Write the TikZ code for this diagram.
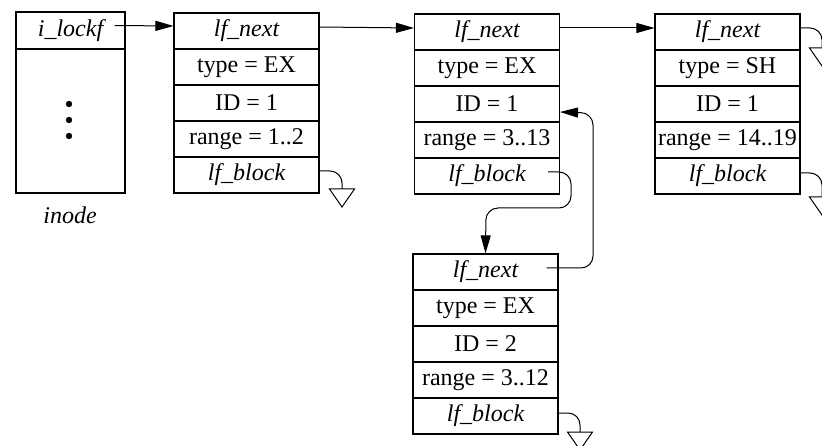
\documentclass[tikz,border=0pt]{standalone}
\usepackage{fontspec}
\setmainfont{Liberation Serif}
\usetikzlibrary{arrows.meta,calc}
\begin{document}
\begin{tikzpicture}[x=1pt,y=-1pt,
  cell/.style={draw,line width=1.1pt,minimum width=145pt,minimum height=36pt,inner sep=0pt,font=\fontsize{24}{28}\selectfont},
  link/.style={line width=1pt,rounded corners=12pt},
  tip/.style={-{Triangle[length=18pt,width=10pt]}},
  ground/.style={line width=1pt,line join=miter}]
\useasboundingbox (0,0) rectangle (822,446);
\clip (0,0) rectangle (822,446);
% inode
\node[cell,minimum width=109pt,minimum height=37pt] (ilockf) at (70.5,30.5) {\itshape i\_lockf};
\node[draw,line width=1.1pt,minimum width=109pt,minimum height=144pt,inner sep=0pt] (ibody) at (70.5,121) {};
\fill (69,104) circle (3.2pt) (69,120) circle (3.2pt) (69,136) circle (3.2pt);
\node[font=\fontsize{24}{28}\selectfont\itshape] (inodelabel) at (70,215) {inode};
% record 1
\node[cell] (a1) at (246.5,31) {\itshape lf\_next};
\node[cell] (a2) at (246.5,67) {type = EX};
\node[cell] (a3) at (246.5,103) {ID = 1};
\node[cell] (a4) at (246.5,139) {range = 1..2};
\node[cell] (a5) at (246.5,175) {\itshape lf\_block};
% record 2
\node[cell] (b1) at (487,32) {\itshape lf\_next};
\node[cell] (b2) at (487,68) {type = EX};
\node[cell] (b3) at (487,104) {ID = 1};
\node[cell] (b4) at (487,140) {range = 3..13};
\node[cell] (b5) at (487,176) {\itshape lf\_block};
% record 3
\node[cell] (c1) at (727.5,32) {\itshape lf\_next};
\node[cell] (c2) at (727.5,68) {type = SH};
\node[cell] (c3) at (727.5,104) {ID = 1};
\node[cell] (c4) at (727.5,140) {range = 14..19};
\node[cell] (c5) at (727.5,176) {\itshape lf\_block};
% record 4
\node[cell] (d1) at (485.5,272) {\itshape lf\_next};
\node[cell] (d2) at (485.5,308) {type = EX};
\node[cell] (d3) at (485.5,344) {ID = 2};
\node[cell] (d4) at (485.5,380) {range = 3..12};
\node[cell] (d5) at (485.5,416) {\itshape lf\_block};
% ground points
\coordinate (g1) at (342,189);
\coordinate (g2) at (822,48);
\coordinate (g3) at (822,197);
\coordinate (g4) at (580,432);
% links
\draw[link,tip] ([xshift=-11pt,yshift=5pt]ilockf.east) -- ([yshift=5pt]a1.west);
\draw[link,tip] ([yshift=4pt]a1.east) -- ([yshift=4pt]b1.west);
\draw[link,tip] ([yshift=4pt]b1.east) -- ([yshift=4pt]c1.west);
\draw[link,tip] ([xshift=-12pt,yshift=4pt]b5.east) -- (571,172) -- (571,208) -- (486,208) -- (d1.north);
\draw[link,tip] ([xshift=-12pt,yshift=4pt]d1.east) -- (593,268) -- (593,113) -- ([yshift=-8pt]b3.east);
\draw[link] ([yshift=4pt]a5.east) -| (g1);
\draw[link] ([yshift=4pt]c1.east) -| (g2);
\draw[link] ([yshift=3pt]c5.east) -| (g3);
\draw[link] ([yshift=3pt]d5.east) -| (g4);
\foreach \g in {g1,g2,g3,g4}
  \draw[ground] (\g) ++(-12.5,0) -- ++(25,0) -- ++(-12.5,18) -- cycle;
\end{tikzpicture}
\end{document}
